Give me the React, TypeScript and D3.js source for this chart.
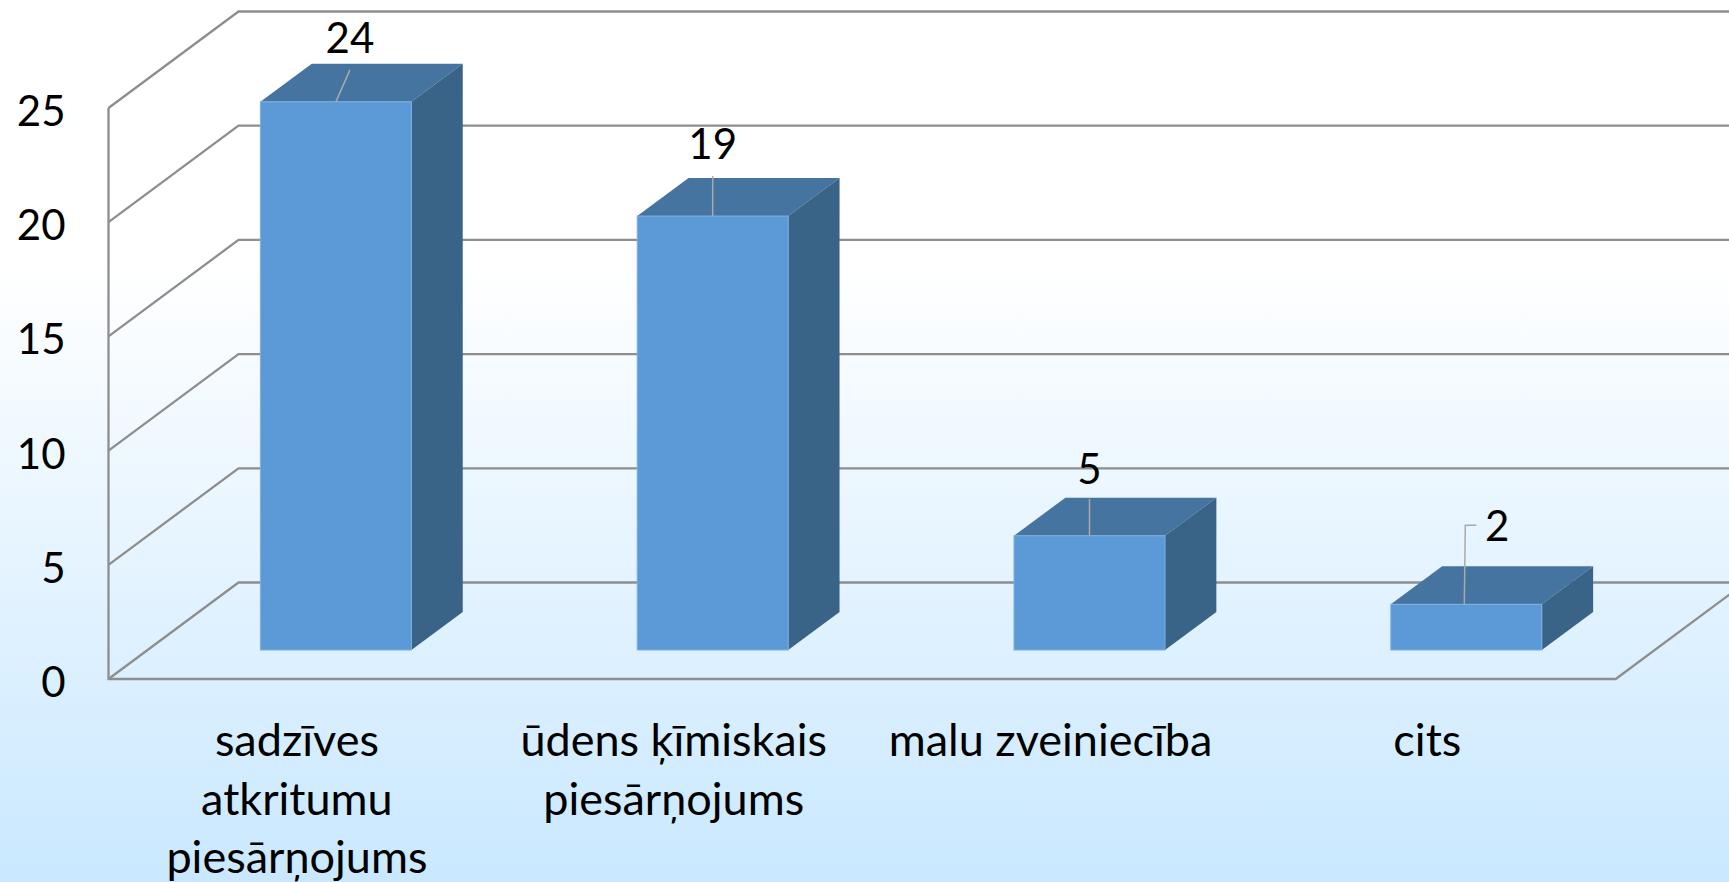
import React, { useEffect, useRef } from 'react';
import * as d3 from 'd3';

const categories = [
  ['sadzīves', 'atkritumu', 'piesārņojums'],
  ['ūdens ķīmiskais', 'piesārņojums'],
  ['malu zveiniecība'],
  ['cits'],
];
const values = [24, 19, 5, 2];
const yTicks = [0, 5, 10, 15, 20, 25];

const WIDTH = 1729;
const HEIGHT = 882;
const FONT = 'Lato, "Open Sans", sans-serif';

// label placement relative to the top centre of each bar's front face
const labelDx = [14, 0, 0, 31];
const labelDy = [-49, -57, -52, -63];
const leaderLen = [32, 40, 37, 79];

const App = () => {
  const svgRef = useRef<SVGSVGElement>(null);

  useEffect(() => {
    const svg = d3.select(svgRef.current);
    svg.selectAll('*').remove();

    const left = 108.5;
    const right = 1615.7;
    const bottom = 679;
    const top = 108;
    // oblique projection of the chart's depth
    const depthX = 130;
    const depthY = 96.5;
    const barNear = 0.3;
    const barDepth = 0.395;

    const band = (right - left) / values.length;
    const barWidth = 151;
    const y = d3.scaleLinear().domain([0, 25]).range([bottom, top]);

    const defs = svg.append('defs');
    const grad = defs.append('linearGradient')
      .attr('id', 'bg')
      .attr('x1', 0).attr('y1', 0).attr('x2', 0).attr('y2', 1);
    grad.append('stop').attr('offset', '0.3').attr('stop-color', '#ffffff');
    grad.append('stop').attr('offset', '1').attr('stop-color', '#c9e8ff');

    svg.append('rect')
      .attr('width', WIDTH)
      .attr('height', HEIGHT)
      .attr('fill', 'url(#bg)');

    const gridColor = '#8e8e8e';
    const line = d3.line();

    // wall and back gridlines
    yTicks.forEach((t) => {
      svg.append('path')
        .attr('d', line([
          [left, y(t)],
          [left + depthX, y(t) - depthY],
          [WIDTH + 5, y(t) - depthY],
        ]))
        .attr('fill', 'none')
        .attr('stroke', gridColor)
        .attr('stroke-width', 2.3);
    });
    svg.append('path')
      .attr('d', line([
        [left, y(25)],
        [left, bottom],
        [right, bottom],
        [right + depthX, bottom - depthY],
      ]))
      .attr('fill', 'none')
      .attr('stroke', gridColor)
      .attr('stroke-width', 2.3);

    // y axis labels
    const axis = svg.append('g')
      .attr('transform', `translate(${left - 43},4)`)
      .call(d3.axisLeft(y).tickValues(yTicks).tickSize(0).tickPadding(0));
    axis.select('.domain').remove();
    axis.selectAll('text')
      .attr('fill', '#000')
      .style('font-family', FONT)
      .style('font-size', '42px');

    // bars
    const baseY = y(0) - 29;
    const offX = depthX * barNear;
    const dx = depthX * barDepth;
    const dy = depthY * barDepth;

    values.forEach((v, i) => {
      const x0 = left + offX + i * band + (band - barWidth) / 2;
      const x1 = x0 + barWidth;
      const yt = y(v) - 29;
      const g = svg.append('g');

      g.append('path')
        .attr('d', line([[x0, yt], [x0 + dx, yt - dy], [x1 + dx, yt - dy], [x1, yt]]) + 'Z')
        .attr('fill', '#4674a0');
      g.append('path')
        .attr('d', line([[x1, yt], [x1 + dx, yt - dy], [x1 + dx, baseY - dy], [x1, baseY]]) + 'Z')
        .attr('fill', '#3a6388');
      g.append('rect')
        .attr('x', x0)
        .attr('y', yt)
        .attr('width', barWidth)
        .attr('height', baseY - yt)
        .attr('fill', '#5b9ad6')
        .attr('stroke', '#7fb0dd')
        .attr('stroke-width', 1);

      // leader line and value label
      const cx = (x0 + x1) / 2;
      const leader = i === 3
        ? [[cx - 2, yt], [cx - 1, yt - leaderLen[i]], [cx + 10, yt - leaderLen[i]]]
        : [[cx, yt], [cx + labelDx[i], yt - leaderLen[i]]];
      g.append('path')
        .attr('d', line(leader as [number, number][]))
        .attr('fill', 'none')
        .attr('stroke', '#a9a9a9')
        .attr('stroke-width', 1.5);
      g.append('text')
        .attr('x', cx + labelDx[i])
        .attr('y', yt + labelDy[i])
        .attr('text-anchor', 'middle')
        .attr('fill', '#000')
        .style('font-family', FONT)
        .style('font-size', '42px')
        .text(v);
    });

    // category labels, centred on the band at floor level
    categories.forEach((lines, i) => {
      const text = svg.append('text')
        .attr('text-anchor', 'middle')
        .attr('fill', '#000')
        .style('font-family', FONT)
        .style('font-size', '45px');
      lines.forEach((l, k) => {
        text.append('tspan')
          .attr('x', left + (i + 0.5) * band)
          .attr('y', 756 + k * 58.5)
          .text(l);
      });
    });
  }, []);

  return (
    <svg
      ref={svgRef}
      width={WIDTH}
      height={HEIGHT}
      viewBox={`0 0 ${WIDTH} ${HEIGHT}`}
      style={{ position: 'absolute', top: 0, left: 0, display: 'block' }}
    />
  );
};

export default App;
